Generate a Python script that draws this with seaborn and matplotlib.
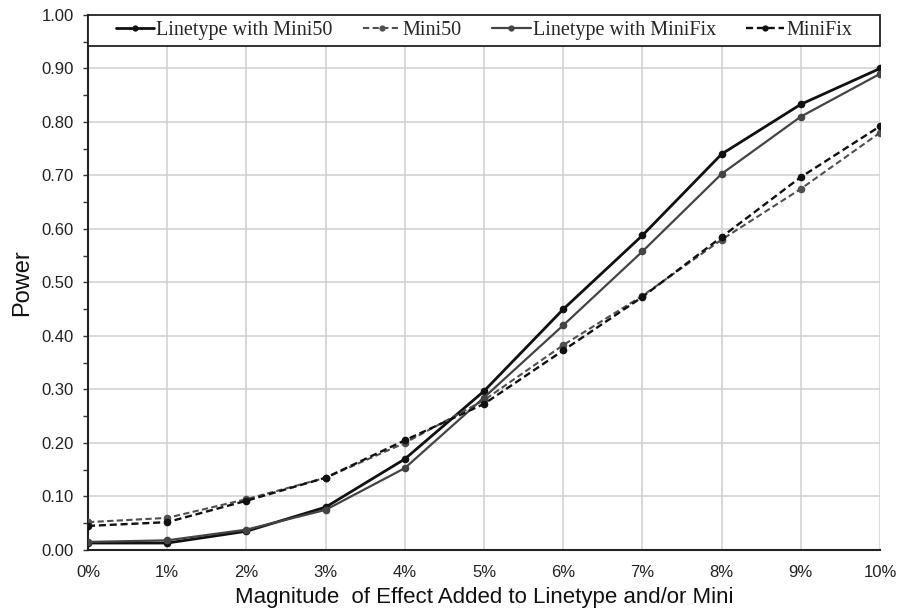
import matplotlib
matplotlib.use("Agg")
import matplotlib.pyplot as plt
import matplotlib.ticker as mticker
from matplotlib.patches import Rectangle
import numpy as np
import pandas as pd
import seaborn as sns

# valores
effect = [0, 1, 2, 3, 4, 5, 6, 7, 8, 9, 10]
tick_labels = [f"{i}%" for i in effect]
lt_mini50 = [0.013, 0.013, 0.035, 0.080, 0.170, 0.297, 0.450, 0.588, 0.740, 0.833, 0.900]
mini50 = [0.052, 0.060, 0.095, 0.135, 0.200, 0.280, 0.383, 0.475, 0.580, 0.675, 0.780]
lt_minifix = [0.015, 0.018, 0.038, 0.075, 0.153, 0.285, 0.420, 0.558, 0.703, 0.810, 0.890]
minifix = [0.045, 0.052, 0.092, 0.135, 0.205, 0.273, 0.373, 0.473, 0.585, 0.697, 0.792]

dash = (0, (3, 1.6))
series = {
    "Linetype with Mini50": (lt_mini50, "#111111", "-", 2.0),
    "Mini50": (mini50, "#505050", dash, 1.5),
    "Linetype with MiniFix": (lt_minifix, "#444444", "-", 1.6),
    "MiniFix": (minifix, "#111111", dash, 1.7),
}

sns.set_theme(style="whitegrid")
plt.rcParams["font.family"] = ["Liberation Sans", "DejaVu Sans"]

fig = plt.figure(figsize=(8.98, 6.13), dpi=100)
ax = fig.add_axes([0.098, 0.1028, 0.882, 0.8728])

for name, (vals, color, ls, lw) in series.items():
    df = pd.DataFrame({"x": effect, "y": vals})
    sns.lineplot(data=df, x="x", y="y", ax=ax, color=color, linestyle=ls, linewidth=lw,
                 marker="o", markersize=5.5, markeredgewidth=0, label=name, zorder=3)

ax.set_xlim(0, 10)
ax.set_ylim(0, 1.0)
ax.set_xticks(effect)
ax.set_xticklabels(tick_labels)
ax.set_yticks(np.arange(0, 1.01, 0.1))
ax.yaxis.set_major_formatter(mticker.FormatStrFormatter("%.2f"))
ax.yaxis.set_minor_locator(mticker.MultipleLocator(0.05))
ax.tick_params(axis="both", labelsize=12, labelcolor="#222222")
ax.tick_params(axis="y", which="both", left=True, length=3.6, width=1, color="#333333", pad=6.8)
ax.tick_params(axis="x", bottom=False, length=0, pad=11)
ax.grid(True, which="major", color="#d0d0d0", linewidth=1.1)
ax.grid(False, which="minor")
ax.set_facecolor("white")

for side in ["top", "right"]:
    ax.spines[side].set_visible(False)
for side in ["left", "bottom"]:
    ax.spines[side].set_color("#222222")
    ax.spines[side].set_linewidth(1.5)

ax.set_xlabel("Magnitude  of Effect Added to Linetype and/or Mini", fontsize=16, labelpad=5, color="#111111")
ax.set_ylabel("Power", fontsize=17, labelpad=6, color="#111111")

# caixa da legenda ocupando toda a largura do topo
box_h = 31 / 535
ax.add_patch(Rectangle((0, 1 - box_h), 1, box_h, transform=ax.transAxes, facecolor="white",
                       edgecolor="#222222", linewidth=1.3, zorder=4, clip_on=False))

leg = ax.legend(loc="center", bbox_to_anchor=(0.5, 1 - box_h / 2), ncol=4, frameon=False,
                handlelength=1.9, handletextpad=0.1, columnspacing=1.5, borderpad=0,
                prop={"family": "Liberation Serif", "size": 14.5})
leg.set_zorder(5)
for h in leg.legend_handles:
    h.set_markersize(4.5)

fig.savefig("out.png", dpi=100)
